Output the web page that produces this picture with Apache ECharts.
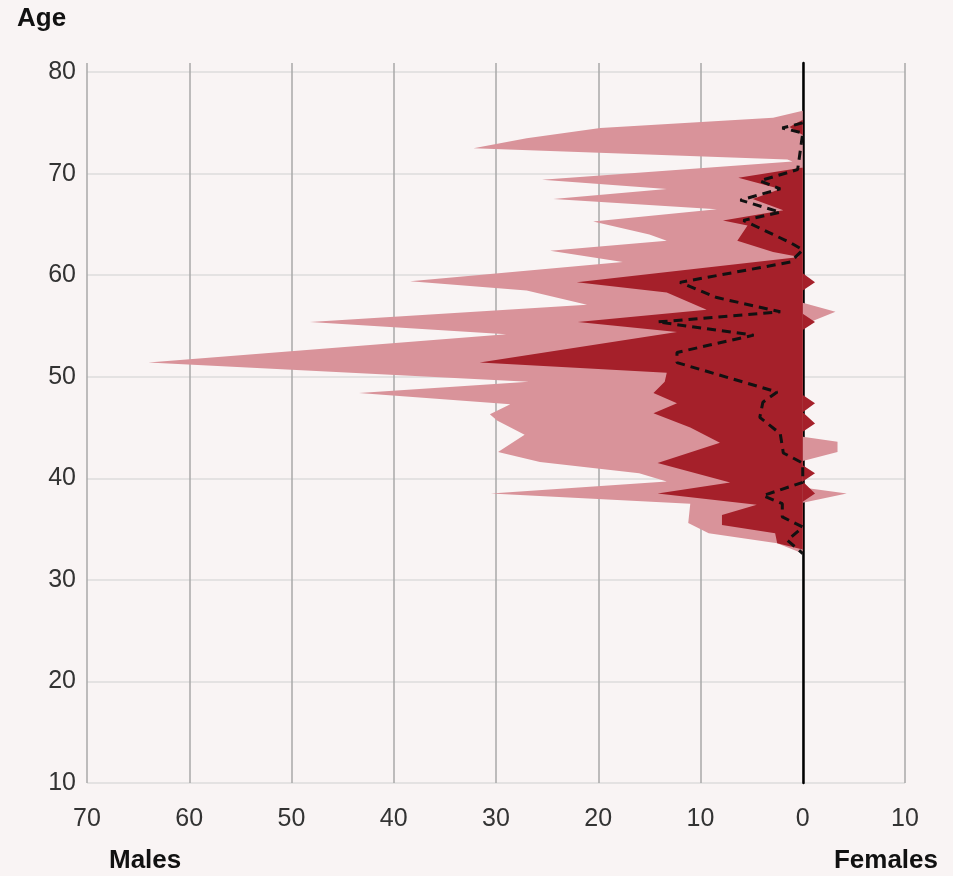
<!DOCTYPE html>
<html>
<head>
<meta charset="utf-8">
<script src="https://cdn.jsdelivr.net/npm/echarts@6/dist/echarts.min.js"></script>
<style>
  html, body { margin: 0; padding: 0; background: #f9f4f4; }
  #chart { width: 953px; height: 876px; }
</style>
</head>
<body>
<div id="chart"></div>
<script>
// ages on the vertical axis, 0.1 year steps so the vertices can sit between whole years
// (runs a little past 80 so the vertical lines poke above the top gridline)
const ages = [];
for (let i = 0; i <= 709; i++) ages.push((10 + i / 10).toFixed(1));

const xTicks = [-70, -60, -50, -40, -30, -20, -10, 0, 10];

// light pink, males (left of zero)
const pinkMaleAge = [76.2, 75.5, 74.5, 73.5, 72.5, 71.4, 71.2, 69.4, 68.5, 67.5, 66.5, 65.3, 64.0, 63.4, 62.4, 61.3, 59.4, 58.5, 57.1, 55.4, 54.2, 51.4, 49.5, 48.4, 47.3, 46.3, 45.7, 44.3, 42.6, 41.6, 40.5, 39.7, 38.5, 37.5, 35.6, 34.6, 33.6, 32.6];
const pinkMale = [0, -2.9, -19.8, -27, -32.2, -1.5, -1, -25.5, -13.3, -24.4, -8.4, -20.5, -15, -13.3, -24.7, -17.6, -38.4, -27, -21.1, -48.2, -29, -64, -26.8, -43.4, -28.6, -30.6, -29.9, -27.2, -29.8, -25.7, -16, -13.3, -30.5, -11, -11.2, -9.2, -2.5, 0];

// light pink, females (right of zero)
const pinkFemaleAge = [57.3, 56.4, 55.1, 44.1, 43.6, 42.6, 41.7, 39.1, 38.5, 37.6];
const pinkFemale = [0, 3.2, 0, 0, 3.4, 3.4, 0, 0, 4.3, 0];

// dark red, males
const darkMaleAge = [75.3, 74.6, 73.8, 70.6, 69.6, 68.5, 67.5, 66.4, 65.4, 64.9, 63.4, 62.3, 61.8, 59.3, 58.3, 56.6, 55.4, 54.4, 51.4, 50.4, 49.5, 48.4, 47.4, 46.4, 45.0, 43.5, 41.5, 39.6, 38.5, 37.4, 36.4, 35.4, 34.6, 33.6, 33.0];
const darkMale = [0, -1.3, 0, 0, -6.3, -2.2, -4.9, -1.9, -7.8, -5.4, -6.4, -2.9, -0.3, -22.1, -13.3, -9.4, -22, -12.3, -31.6, -13.3, -13.5, -14.6, -12.3, -14.6, -11, -8.1, -14.2, -7.1, -14.2, -4.5, -7.9, -7.9, -2.7, -2.5, 0];

// dark red, females
const darkFemaleAge = [60.2, 59.3, 58.5, 56.2, 55.4, 54.6, 48.2, 47.4, 46.5, 45.4, 44.6, 41.3, 40.5, 39.7, 38.5, 37.7];
const darkFemale = [0, 1.2, 0, 0, 1.2, 0, 0, 1.2, 0, 1.2, 0, 0, 1.2, 0, 1.2, 0];

// dashed line, males
const dashAge = [75.0, 74.5, 74.0, 70.4, 69.3, 68.5, 67.4, 66.2, 65.4, 63.2, 62.5, 61.3, 59.3, 57.8, 56.4, 55.4, 54.1, 52.4, 51.4, 48.5, 47.5, 46.0, 44.4, 42.5, 41.5, 39.6, 38.3, 37.5, 36.2, 35.2, 33.9, 32.6];
const dashVal = [0, -2, 0, -0.5, -4.2, -2.2, -6.1, -2.2, -5.8, -1.2, 0, -1.2, -12, -8.4, -2.2, -14.2, -4.8, -12.3, -12.3, -2.5, -3.9, -4.2, -2.2, -1.9, 0, 0, -3.9, -2, -2, 0, -1.5, 0];

const pink = "#d9939a";
const dark = "#a5202a";
const font = "Liberation Sans, Arial, sans-serif";

function pts(ageList, vals) {
  return ageList.map((a, i) => [vals[i], Math.round((a - 10) * 10)]);
}

function area(name, ageList, vals, color, z) {
  return {
    name: name,
    type: "line",
    data: pts(ageList, vals),
    symbol: "none",
    silent: true,
    z: z,
    lineStyle: { width: 0, color: color },
    areaStyle: { color: color, opacity: 1 },
  };
}

const isTen = (idx, val) => Math.abs(Number(val) % 10) < 0.001;

const chart = echarts.init(document.getElementById("chart"));

chart.setOption({
  animation: false,
  backgroundColor: "#f9f4f4",
  grid: { left: 87, right: 48, top: 63, bottom: 93 },
  xAxis: {
    type: "value",
    min: -70,
    max: 10,
    interval: 10,
    axisLine: { show: false },
    axisTick: { show: false },
    axisLabel: {
      margin: 24,
      fontSize: 25,
      color: "#333",
      fontFamily: font,
      formatter: (v) => (xTicks.indexOf(v) >= 0 ? String(Math.abs(v)) : ""),
    },
    splitLine: { show: true, lineStyle: { color: "#a8a8a8", width: 1.5 } },
  },
  yAxis: {
    type: "category",
    data: ages,
    boundaryGap: false,
    axisLine: { show: true, onZero: true, lineStyle: { color: "#000", width: 2.5 } },
    axisTick: { show: false },
    axisLabel: {
      interval: isTen,
      margin: 11,
      fontSize: 25,
      color: "#333",
      fontFamily: font,
      formatter: (v) => String(Math.round(Number(v))),
    },
    splitLine: {
      show: true,
      interval: isTen,
      lineStyle: { color: "#dcdcdc", width: 1.5 },
    },
  },
  graphic: [
    { type: "text", left: 17, top: 6, style: { text: "Age", font: "bold 26px " + font, fill: "#111" } },
    { type: "text", left: 109, top: 848, style: { text: "Males", font: "bold 26px " + font, fill: "#111" } },
    { type: "text", right: 15, top: 848, style: { text: "Females", font: "bold 26px " + font, fill: "#111" } },
  ],
  series: [
    area("Males total", pinkMaleAge, pinkMale, pink, 2),
    area("Females total", pinkFemaleAge, pinkFemale, pink, 2),
    area("Males", darkMaleAge, darkMale, dark, 3),
    area("Females", darkFemaleAge, darkFemale, dark, 3),
    {
      name: "Dashed",
      type: "line",
      data: pts(dashAge, dashVal),
      symbol: "none",
      silent: true,
      z: 4,
      lineStyle: { color: "#111", width: 3, type: [9, 6] },
    },
  ],
});
</script>
</body>
</html>
